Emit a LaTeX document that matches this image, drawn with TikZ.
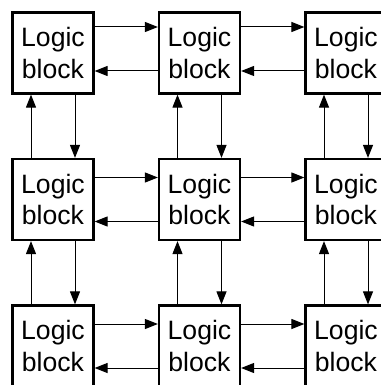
\documentclass[tikz,border=0pt]{standalone}
\usepackage{fontspec}
\setmainfont{Liberation Sans}
\usetikzlibrary{positioning}
\usetikzlibrary{arrows.meta}
\tikzset{%
	>={Triangle[width=10pt,length=13pt]},
	% Specifications for style of nodes:
	block/.style = {rectangle, draw=black, line width=2.2pt, minimum width=81pt, minimum height=81pt, inner sep=0pt, align=center, font=\fontsize{26.6}{31.6}\selectfont},
	link/.style = {line width=1pt, ->},
}

\begin{document}
\begin{tikzpicture}[node distance=63.3pt]
		\useasboundingbox (0,0) rectangle (380pt,-385pt);

		\node (L11) [block] at (53pt,-53pt) {Logic\\block};
		\node (L12) [block, right=of L11] {Logic\\block};
		\node (L13) [block, right=of L12] {Logic\\block};

		\node (L21) [block, below=of L11] {Logic\\block};
		\node (L22) [block, right=of L21] {Logic\\block};
		\node (L23) [block, right=of L22] {Logic\\block};

		\node (L31) [block, below=of L21] {Logic\\block};
		\node (L32) [block, right=of L31] {Logic\\block};
		\node (L33) [block, right=of L32] {Logic\\block};

		% links along the rows
		\draw [link] ([yshift=26pt]L11.east) -- ([yshift=26pt]L12.west);
		\draw [link] ([yshift=-18pt]L12.west) -- ([yshift=-18pt]L11.east);
		\draw [link] ([yshift=26pt]L12.east) -- ([yshift=26pt]L13.west);
		\draw [link] ([yshift=-18pt]L13.west) -- ([yshift=-18pt]L12.east);

		\draw [link] ([yshift=22pt]L21.east) -- ([yshift=22pt]L22.west);
		\draw [link] ([yshift=-22pt]L22.west) -- ([yshift=-22pt]L21.east);
		\draw [link] ([yshift=22pt]L22.east) -- ([yshift=22pt]L23.west);
		\draw [link] ([yshift=-22pt]L23.west) -- ([yshift=-22pt]L22.east);

		\draw [link] ([yshift=22pt]L31.east) -- ([yshift=22pt]L32.west);
		\draw [link] ([yshift=-22pt]L32.west) -- ([yshift=-22pt]L31.east);
		\draw [link] ([yshift=22pt]L32.east) -- ([yshift=22pt]L33.west);
		\draw [link] ([yshift=-22pt]L33.west) -- ([yshift=-22pt]L32.east);

		% links along the columns
		\draw [link] ([xshift=22pt]L11.south) -- ([xshift=22pt]L21.north);
		\draw [link] ([xshift=-22pt]L21.north) -- ([xshift=-22pt]L11.south);
		\draw [link] ([xshift=22pt]L21.south) -- ([xshift=22pt]L31.north);
		\draw [link] ([xshift=-22pt]L31.north) -- ([xshift=-22pt]L21.south);

		\draw [link] ([xshift=22pt]L12.south) -- ([xshift=22pt]L22.north);
		\draw [link] ([xshift=-22pt]L22.north) -- ([xshift=-22pt]L12.south);
		\draw [link] ([xshift=22pt]L22.south) -- ([xshift=22pt]L32.north);
		\draw [link] ([xshift=-22pt]L32.north) -- ([xshift=-22pt]L22.south);

		\draw [link] ([xshift=22pt]L13.south) -- ([xshift=22pt]L23.north);
		\draw [link] ([xshift=-22pt]L23.north) -- ([xshift=-22pt]L13.south);
		\draw [link] ([xshift=22pt]L23.south) -- ([xshift=22pt]L33.north);
		\draw [link] ([xshift=-22pt]L33.north) -- ([xshift=-22pt]L23.south);

\end{tikzpicture}
\end{document}
